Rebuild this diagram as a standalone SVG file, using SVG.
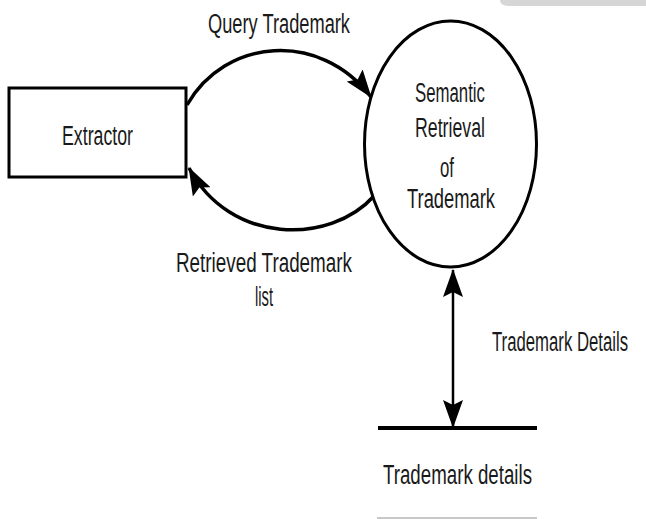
<svg xmlns="http://www.w3.org/2000/svg" width="646" height="519" viewBox="0 0 646 519">
<style>
.t{font-family:"Liberation Sans","DejaVu Sans",Arial,sans-serif;font-size:27px;fill:#1a1a1a}
.ln{fill:none;stroke:#000;stroke-width:3.5}
</style>
<defs>
<marker id="ah" viewBox="0 0 28 20" refX="27" refY="10" markerWidth="28" markerHeight="20" markerUnits="userSpaceOnUse" orient="auto-start-reverse">
<path d="M0,0 L28,10 L0,20 L5,10 Z" fill="#000"/>
</marker>
</defs>
<rect width="646" height="519" fill="#fff"/>
<path d="M500,0 L646,0 L646,6 L510,6 Q500,6 500,0 Z" fill="#d6d6d6"/>
<g id="connectors">
<path class="ln" d="M187,105 C 225,38 320,30 371,97" marker-end="url(#ah)"/>
<path class="ln" d="M374,196 C 330,245 230,245 189,168" marker-end="url(#ah)"/>
<path class="ln" style="stroke-width:2.5" d="M453,270 L453,427" marker-start="url(#ah)" marker-end="url(#ah)"/>
</g>
<g id="extractor">
<rect x="9" y="88" width="177" height="89" fill="#fff" stroke="#000" stroke-width="3"/>
<text class="t" x="62" y="145" textLength="71" lengthAdjust="spacingAndGlyphs">Extractor</text>
</g>
<g id="process">
<ellipse cx="450.5" cy="144" rx="86" ry="123" fill="#fff" stroke="#000" stroke-width="3"/>
<text class="t" x="415" y="102" textLength="70" lengthAdjust="spacingAndGlyphs">Semantic</text>
<text class="t" x="415" y="137" textLength="70" lengthAdjust="spacingAndGlyphs">Retrieval</text>
<text class="t" x="440" y="177" textLength="14" lengthAdjust="spacingAndGlyphs">of</text>
<text class="t" x="407" y="208" textLength="88" lengthAdjust="spacingAndGlyphs">Trademark</text>
</g>
<g id="store">
<line x1="378" y1="428" x2="537" y2="428" stroke="#000" stroke-width="4"/>
<line x1="377" y1="518" x2="537" y2="518" stroke="#c8c8c8" stroke-width="2"/>
<text class="t" x="383" y="484" textLength="149" lengthAdjust="spacingAndGlyphs">Trademark details</text>
</g>
<g id="labels">
<text class="t" x="208" y="33" textLength="142" lengthAdjust="spacingAndGlyphs">Query Trademark</text>
<text class="t" x="176" y="272" textLength="176" lengthAdjust="spacingAndGlyphs">Retrieved Trademark</text>
<text class="t" x="255" y="306" textLength="18" lengthAdjust="spacingAndGlyphs">list</text>
<text class="t" transform="translate(492,351) scale(0.62,1)">Trademark Details</text>
</g>
</svg>
